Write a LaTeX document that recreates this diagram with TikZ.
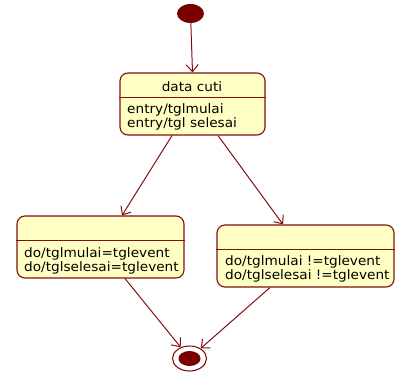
\documentclass[tikz,border=0pt]{standalone}
\usepackage{fontspec}
\setmainfont{DejaVu Sans}[FakeStretch=1.05]
\usepackage{tikz}
\usetikzlibrary{arrows.meta,positioning,calc,shapes.geometric}

\definecolor{stline}{RGB}{128,16,16}
\definecolor{stfill}{RGB}{255,255,196}
\definecolor{stdot}{RGB}{122,0,0}

\tikzset{
  stbox/.style={draw=stline, fill=stfill, rounded corners=8pt, line width=1.1pt,
    minimum height=62pt, inner sep=0pt},
  sttitle/.style={font=\fontsize{13}{13.5}\selectfont, anchor=base, inner sep=0pt},
  stbody/.style={font=\fontsize{13}{13.5}\selectfont, align=left, anchor=north west,
    inner sep=0pt},
  %% initial and final pseudo states
  stinit/.style={ellipse, fill=stdot, minimum width=27pt, minimum height=19pt, inner sep=0pt},
  stend/.style={ellipse, draw=stline, fill=white, line width=1.1pt,
    minimum width=34pt, minimum height=25pt, inner sep=0pt},
  stendin/.style={ellipse, fill=stdot, minimum width=22pt, minimum height=15pt, inner sep=0pt},
  %% transitions
  trans/.style={-{Straight Barb[length=7pt,width=12pt]}, draw=stline, line width=1pt},
}

\begin{document}
\begin{tikzpicture}[x=1pt, y=-1pt]
\useasboundingbox (0,0) rectangle (395,372);

\node[stinit] (sInit) at (190.5,13.5) {};

\node[stbox, minimum width=145pt] (sCuti)  at (192.5,104) {};
\node[stbox, minimum width=167pt] (sLeft)  at (100.5,247) {};
\node[stbox, minimum width=177pt] (sRight) at (305.5,256) {};

\foreach \s in {sCuti,sLeft,sRight}
  \draw[draw=stline, line width=1.1pt] ($(\s.north west)+(0,25)$) -- ($(\s.north east)+(0,25)$);

\node[sttitle] (tCuti) at (192,91) {data cuti};
\node[stbody] (bCuti)  at (127,103.5) {entry/tglmulai\\entry/tgl selesai};
\node[stbody] (bLeft)  at (24,247.5)  {do/tglmulai=tglevent\\do/tglselesai=tglevent};
\node[stbody] (bRight) at (225,255.5) {do/tglmulai !=tglevent\\do/tglselesai !=tglevent};

\node[stend] (sEnd) at (189.5,358.5) {};
\node[stendin] (sEndIn) at (sEnd.center) {};

\draw[trans] (sInit) -- (sCuti.north);
\draw[trans] ($(sCuti.south)+(-20.5,0)$) -- ($(sLeft.north)+(21.5,0)$);
\draw[trans] ($(sCuti.south)+(25.5,0)$) -- ($(sRight.north)+(-22.5,0)$);
\draw[trans] ($(sLeft.south)+(24.5,0)$) -- (sEnd.128);
\draw[trans] ($(sRight.south)+(-35.5,0)$) -- (sEnd.42);

\end{tikzpicture}
\end{document}
